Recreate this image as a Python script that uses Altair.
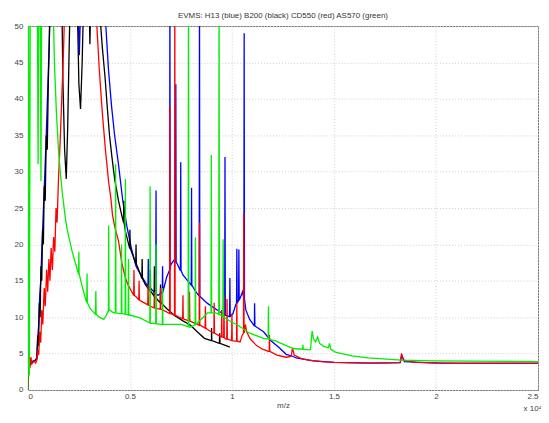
import altair as alt
import pandas as pd

TITLE = "EVMS: H13 (blue) B200 (black) CD550 (red) AS570 (green)"
x_ticks = [0, 0.5, 1, 1.5, 2, 2.5]
y_ticks = [0, 5, 10, 15, 20, 25, 30, 35, 40, 45, 50]

# ---- blue : H13 ----
blue_pts = [
    (0.000, 0.0), (0.005, 4.5), (0.010, 3.5), (0.020, 3.9), (0.036, 4.1), (0.044, 4.4),
    (0.048, 7.0), (0.053, 9.0), (0.058, 13.0), (0.063, 15.0), (0.068, 19.0), (0.075, 24.0),
    (0.082, 29.0), (0.090, 35.0), (0.097, 41.0), (0.104, 47.0), (0.112, 56.0),
    (0.243, 56.0), (0.252, 46.0), (0.262, 56.0),
    (0.365, 56.0), (0.382, 50.0), (0.395, 44.0), (0.410, 39.0), (0.425, 35.0), (0.444, 31.0),
    (0.465, 26.0), (0.485, 22.5), (0.507, 19.5), (0.530, 17.0), (0.560, 15.5), (0.600, 14.0),
    (0.638, 13.0), (0.662, 13.5), (0.680, 15.5), (0.700, 17.2), (0.715, 17.8), (0.734, 17.2),
    (0.760, 15.8), (0.797, 14.5), (0.820, 13.6), (0.845, 12.8), (0.880, 11.9), (0.928, 11.0),
    (0.960, 10.4), (0.985, 10.1), (1.005, 10.5), (1.020, 11.8), (1.040, 12.6), (1.052, 13.5),
    (1.068, 11.0), (1.087, 9.7), (1.110, 8.8), (1.155, 8.0), (1.190, 6.8), (1.232, 5.8),
    (1.266, 4.9), (1.300, 4.6), (1.314, 4.4), (1.400, 4.0), (1.500, 3.8), (1.700, 3.7),
    (1.825, 3.75), (1.832, 4.8), (1.845, 3.9), (2.000, 3.7), (2.500, 3.65),
]
blue_spikes = [  # (x, base, peak)
    (0.590, 14.2, 18.0), (0.628, 13.2, 27.4), (0.660, 13.4, 17.0), (0.696, 16.5, 56.0),
    (0.725, 17.6, 42.0), (0.749, 16.4, 31.3), (0.802, 14.4, 27.8), (0.841, 12.9, 56.0),
    (0.966, 10.3, 32.0), (0.990, 10.1, 15.4), (1.024, 11.9, 19.4), (1.034, 12.4, 19.3),
    (1.060, 12.5, 49.0), (1.111, 8.8, 11.9),
]

# ---- black : B200 ----
black_pts = [
    (0.000, 0.0), (0.005, 5.0), (0.010, 3.4), (0.020, 3.8), (0.034, 4.0), (0.044, 4.3),
    (0.048, 7.5), (0.052, 6.0), (0.056, 12.0), (0.060, 10.0), (0.064, 17.0), (0.068, 15.0),
    (0.072, 22.0), (0.076, 20.0), (0.080, 28.0), (0.085, 26.0), (0.090, 35.0), (0.095, 33.0),
    (0.100, 42.0), (0.105, 48.0), (0.110, 56.0),
    (0.165, 56.0), (0.172, 42.0), (0.180, 33.0), (0.188, 29.0), (0.195, 36.0), (0.203, 48.0),
    (0.210, 56.0),
    (0.240, 56.0), (0.250, 42.0), (0.258, 38.6), (0.266, 45.0), (0.275, 56.0),
    (0.298, 56.0), (0.304, 47.5), (0.310, 56.0),
    (0.345, 56.0), (0.357, 50.0), (0.365, 47.0), (0.378, 43.0), (0.390, 38.5), (0.400, 35.0),
    (0.412, 32.0), (0.425, 29.0), (0.444, 26.0), (0.460, 24.0), (0.478, 21.8), (0.500, 19.5),
    (0.527, 17.5), (0.550, 16.0), (0.575, 14.5), (0.600, 13.6), (0.638, 12.3), (0.680, 11.2),
    (0.720, 10.2), (0.760, 9.5), (0.797, 8.9), (0.830, 8.0), (0.865, 7.1), (0.900, 6.8),
    (0.928, 6.5), (0.961, 6.2), (0.990, 5.9),
]
black_spikes = [
    (0.470, 23.0, 26.0), (0.500, 19.5, 22.0), (0.530, 17.3, 20.0), (0.560, 15.3, 18.0),
    (0.600, 13.6, 16.5), (0.620, 12.9, 17.0), (0.650, 12.0, 14.5), (0.900, 6.8, 8.5),
    (0.940, 6.4, 7.8),
]

# ---- red : CD550 ----
red_pts = [
    (0.000, 0.0), (0.005, 6.5), (0.010, 3.0), (0.0145, 4.5), (0.020, 3.6), (0.030, 4.0),
    (0.038, 3.7), (0.044, 4.1), (0.048, 5.5), (0.053, 4.8), (0.058, 8.0), (0.063, 6.5),
    (0.068, 11.0), (0.073, 9.0), (0.080, 14.0), (0.085, 11.5), (0.092, 16.5), (0.097, 13.5),
    (0.103, 18.0), (0.108, 15.0), (0.114, 19.5), (0.120, 16.5), (0.126, 21.0), (0.132, 19.0),
    (0.138, 25.0), (0.143, 23.0), (0.150, 29.0), (0.158, 34.0), (0.166, 40.0), (0.175, 47.0),
    (0.184, 56.0),
    (0.255, 56.0), (0.261, 51.5), (0.267, 56.0),
    (0.330, 56.0), (0.338, 50.0), (0.350, 44.0), (0.365, 38.0), (0.380, 33.0), (0.396, 28.5),
    (0.406, 26.5), (0.415, 24.0), (0.425, 22.5), (0.444, 20.5), (0.460, 17.5), (0.478, 15.4),
    (0.490, 14.5), (0.507, 13.6), (0.530, 12.8), (0.555, 12.2), (0.575, 11.9), (0.600, 11.5),
    (0.630, 11.2), (0.660, 11.0), (0.700, 10.5), (0.735, 10.1), (0.768, 9.7), (0.800, 9.4),
    (0.845, 8.9), (0.880, 8.3), (0.928, 7.6), (0.970, 7.0), (1.010, 6.7), (1.040, 6.6),
    (1.050, 7.5), (1.066, 9.0), (1.072, 8.0), (1.090, 7.0), (1.121, 6.1), (1.150, 5.6),
    (1.179, 5.3), (1.220, 4.8), (1.266, 4.5), (1.290, 4.6), (1.297, 5.8), (1.305, 4.8),
    (1.340, 4.3), (1.377, 4.1), (1.440, 3.9), (1.500, 3.8), (1.650, 3.7), (1.825, 3.75),
    (1.831, 5.0), (1.840, 4.1), (1.900, 3.8), (2.100, 3.7), (2.500, 3.7),
]
red_spikes = [
    (0.520, 13.0, 16.5), (0.545, 12.4, 15.0), (0.589, 11.7, 14.5), (0.620, 11.3, 13.5),
    (0.650, 11.1, 14.0), (0.696, 10.5, 39.0), (0.720, 10.3, 56.0), (0.760, 9.8, 13.0),
    (0.792, 9.5, 13.5), (0.841, 8.9, 23.0), (0.870, 8.5, 11.5), (0.913, 7.8, 12.0),
    (0.950, 7.3, 11.0), (0.961, 7.2, 13.0), (0.976, 7.0, 12.5), (1.000, 6.8, 10.5),
    (1.024, 6.7, 12.0), (1.058, 7.8, 24.4), (1.184, 5.3, 7.6),
]

# ---- green : AS570 ----
green_pts = [
    (0.000, 0.0), (0.003, 58.0), (0.007, 2.0), (0.012, 58.0), (0.046, 58.0), (0.050, 31.0),
    (0.054, 58.0), (0.060, 58.0), (0.064, 28.7), (0.068, 58.0),
    (0.120, 58.0), (0.130, 45.0), (0.140, 38.0), (0.150, 33.0), (0.160, 29.5), (0.169, 27.0),
    (0.184, 23.5), (0.193, 22.0), (0.217, 19.0), (0.251, 15.8), (0.270, 13.8), (0.285, 12.3),
    (0.305, 11.2), (0.324, 10.6), (0.350, 10.0), (0.372, 9.7), (0.385, 10.3), (0.400, 11.0),
    (0.420, 10.6), (0.450, 10.5), (0.500, 10.3), (0.550, 9.9), (0.600, 9.2), (0.650, 9.0),
    (0.700, 9.0), (0.750, 9.0), (0.797, 8.6), (0.830, 9.2), (0.860, 10.0), (0.880, 10.6),
    (0.920, 10.6), (0.960, 10.0), (1.000, 9.3), (1.030, 8.9), (1.087, 7.8), (1.155, 7.1),
    (1.217, 6.7), (1.266, 6.1), (1.300, 5.7), (1.377, 5.5), (1.385, 5.6), (1.393, 8.1),
    (1.400, 7.0), (1.410, 6.6), (1.420, 7.3), (1.430, 6.4), (1.450, 6.0), (1.473, 5.8),
    (1.478, 6.4), (1.485, 5.6), (1.507, 5.2), (1.589, 4.7), (1.667, 4.4), (1.831, 4.1),
    (1.990, 4.0), (2.500, 3.9),
]
green_spikes = [
    (0.250, 15.9, 19.0), (0.290, 12.0, 16.0), (0.333, 10.4, 13.6), (0.396, 10.9, 22.6),
    (0.430, 10.6, 31.0), (0.459, 10.5, 20.0), (0.478, 10.4, 29.0), (0.493, 10.3, 18.0),
    (0.599, 9.2, 28.0), (0.628, 9.1, 20.0), (0.660, 9.0, 14.0), (0.787, 8.7, 58.0),
    (0.821, 9.0, 21.0), (0.899, 10.6, 32.3), (0.937, 10.4, 58.0), (0.957, 10.1, 20.7),
    (1.179, 7.0, 11.5), (1.348, 5.6, 6.2),
]

SPIKE_HALF_WIDTH = 0.0015
PLOT_W = 513
PLOT_H = 366


def build(base, spikes, name):
    pts = list(base)
    for sx, b, p in spikes:
        pts += [(sx - SPIKE_HALF_WIDTH, b), (sx, p), (sx + SPIKE_HALF_WIDTH, b)]
    pts.sort()
    df = pd.DataFrame(pts, columns=["x", "y"])
    df["s"] = name
    return df


xscale = alt.Scale(domain=[0, 2.5], nice=False, zero=False)
yscale = alt.Scale(domain=[0, 50], nice=False)

xaxis = alt.Axis(values=x_ticks, format="~g", title="m/z", grid=True, ticks=False,
                 domain=False, labelPadding=3, titlePadding=1)
yaxis = alt.Axis(values=y_ticks, format="~g", title=None, grid=True, ticks=False,
                 domain=False, labelPadding=5)


def line(df, color):
    return alt.Chart(df).mark_line(color=color, strokeWidth=1.3, clip=True).encode(
        x=alt.X("x:Q", scale=xscale, axis=xaxis),
        y=alt.Y("y:Q", scale=yscale, axis=yaxis),
    )


layers = [
    line(build(blue_pts, blue_spikes, "H13"), "#0000ff"),
    line(build(black_pts, black_spikes, "B200"), "#000000"),
    line(build(red_pts, red_spikes, "CD550"), "#ff0000"),
    line(build(green_pts, green_spikes, "AS570"), "#00ee00"),
]

exp_label = alt.Chart(pd.DataFrame({"t": ["x 10\u2074"]})).mark_text(
    align="right", baseline="alphabetic", fontSize=8, color="#444", font="Liberation Sans"
).encode(x=alt.value(PLOT_W + 4), y=alt.value(PLOT_H + 21), text="t:N")

chart = alt.layer(*layers, exp_label).resolve_axis(x="shared", y="shared").properties(
    width=PLOT_W,
    height=PLOT_H,
    padding={"left": 20, "top": 17, "right": 3, "bottom": 22},
    autosize=alt.AutoSizeParams(type="none"),
    title=alt.TitleParams(TITLE, fontSize=8, fontWeight="normal", color="#333",
                          font="Liberation Sans", anchor="middle", offset=2),
).configure_view(stroke="#777", strokeWidth=1).configure_axis(
    labelFontSize=8, labelColor="#444", labelFont="Liberation Sans",
    titleFontSize=8, titleFontWeight="normal", titleColor="#444", titleFont="Liberation Sans",
    gridColor="#cfcfcf", gridDash=[1, 2], gridWidth=1,
)

chart.save("out.html", embed_options={"renderer": "svg", "actions": False})
